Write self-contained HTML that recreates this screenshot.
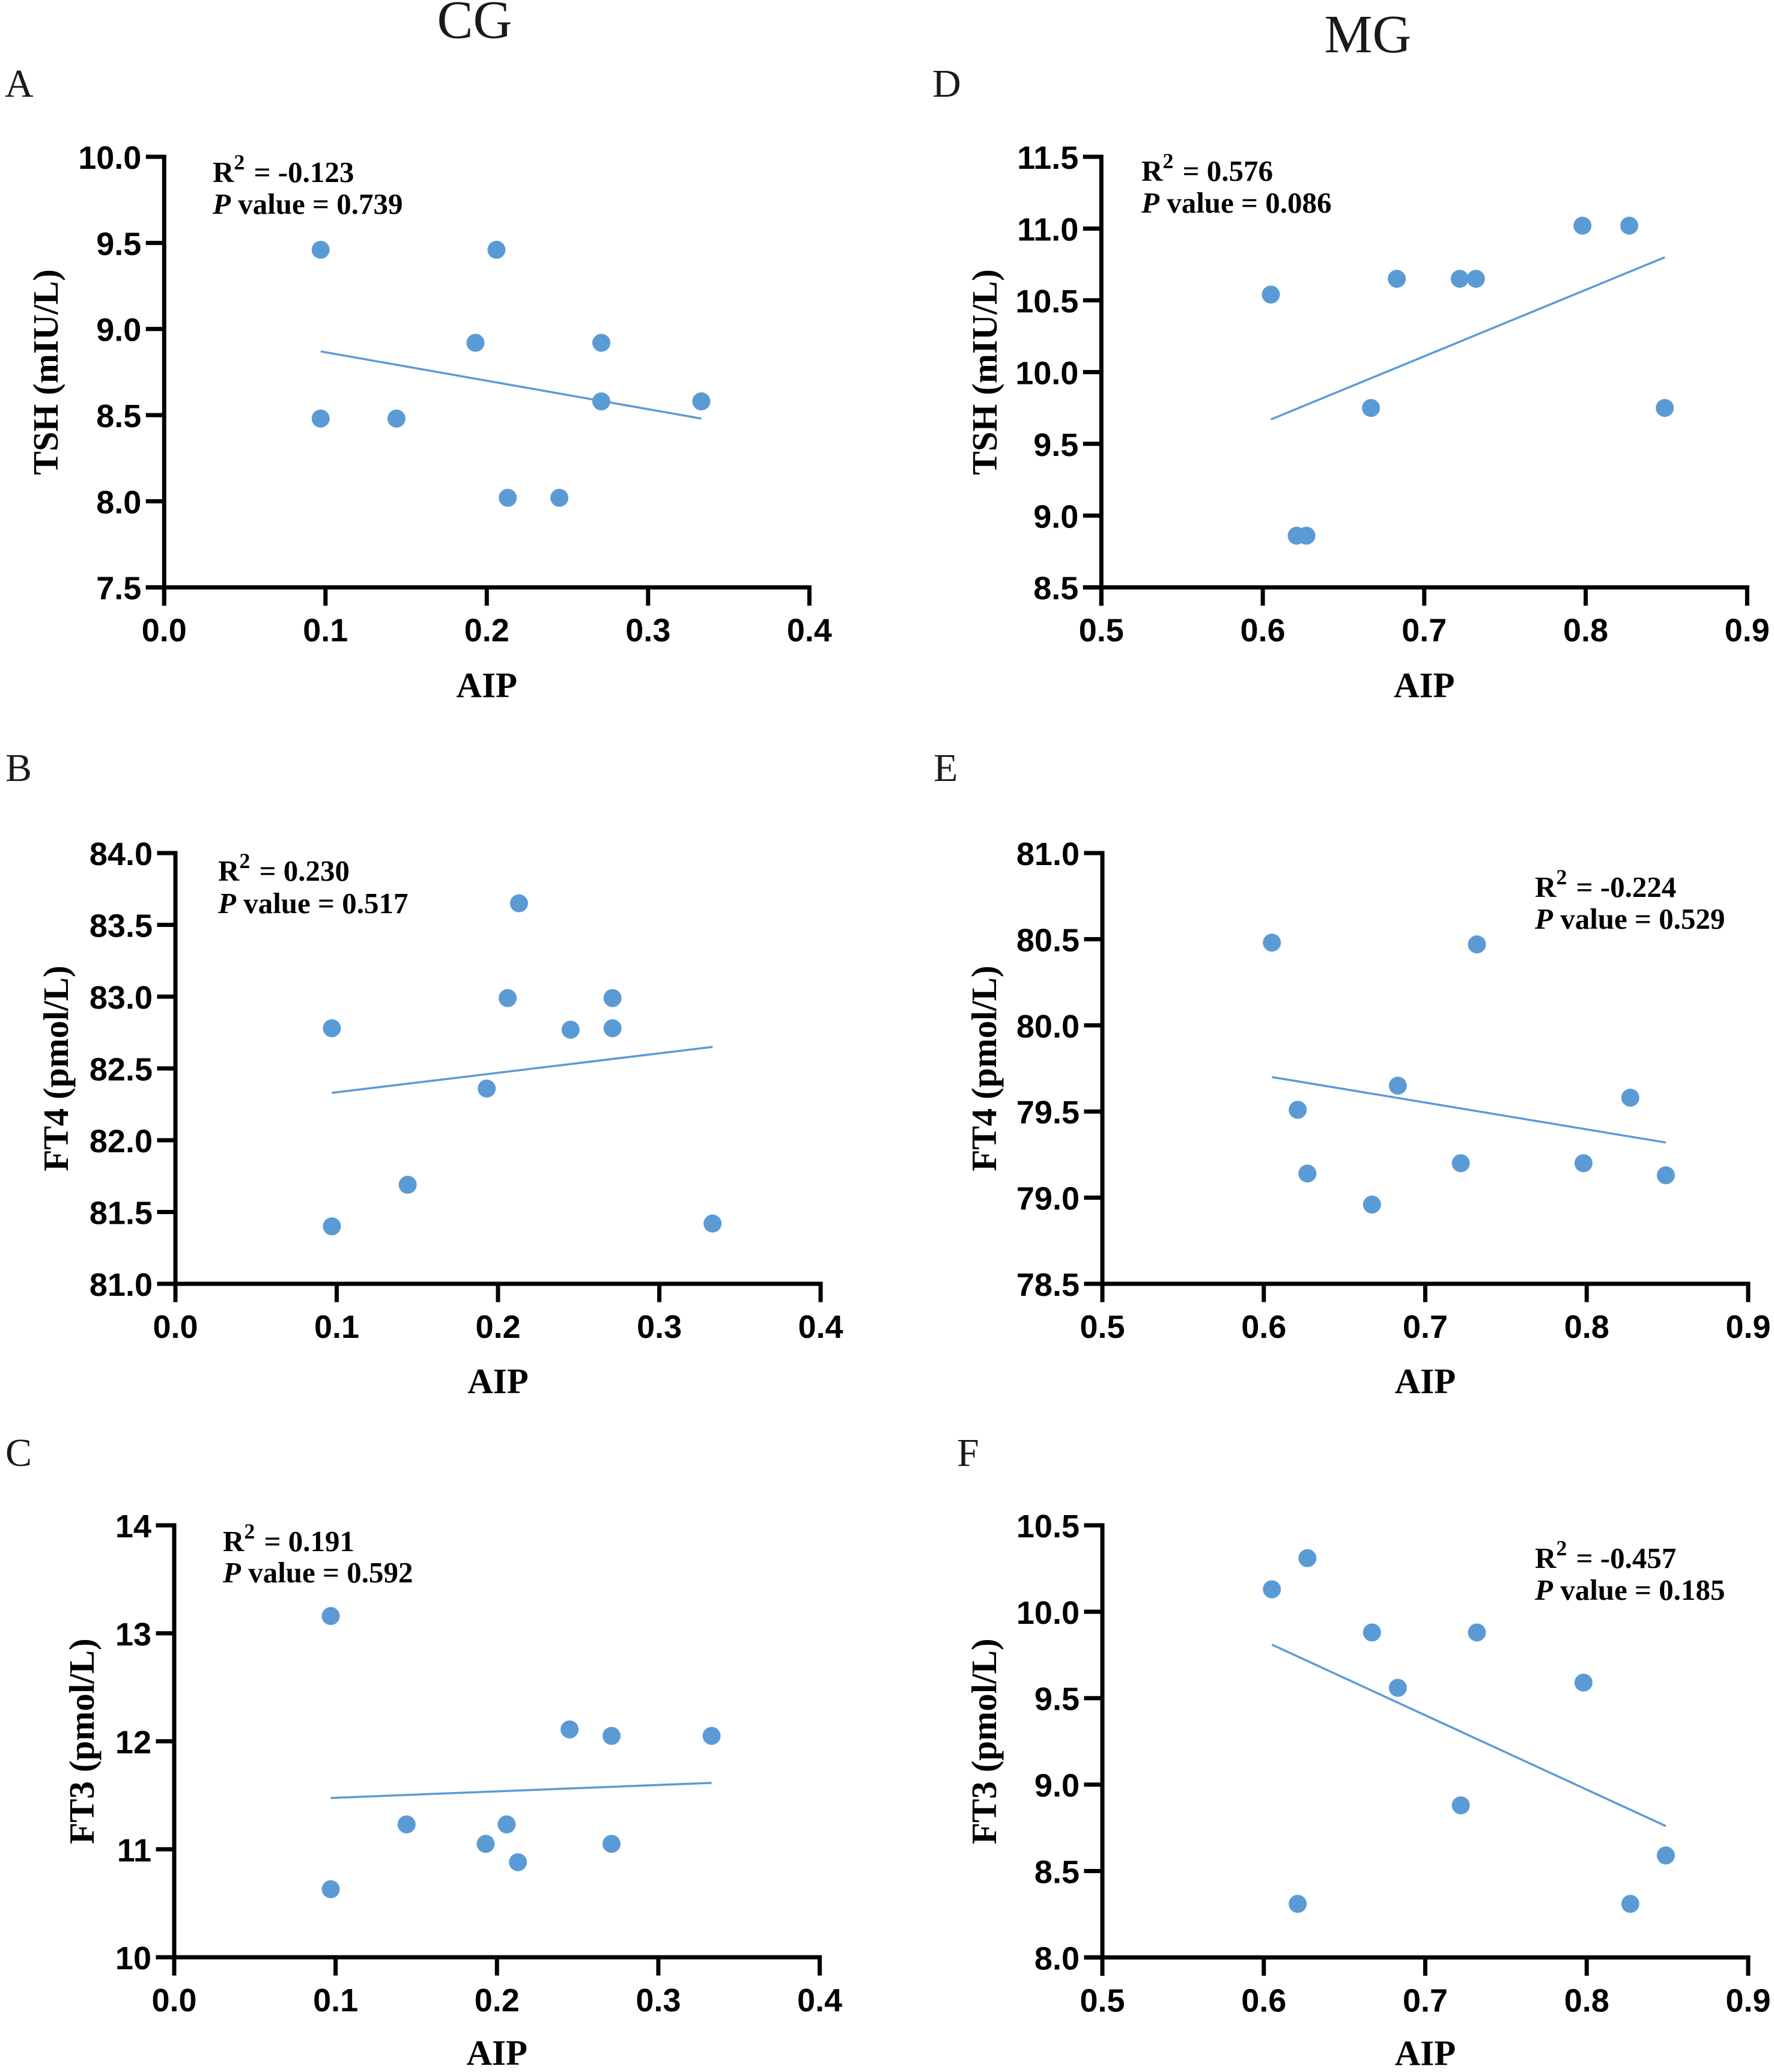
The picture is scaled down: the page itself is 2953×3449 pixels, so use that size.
<!DOCTYPE html>
<html lang="en">
<head>
<meta charset="utf-8">
<title>AIP correlation scatter plots</title>
<style>
html,body{margin:0;padding:0;background:#fff;}
svg{display:block;}
.sans{font-family:"Liberation Sans",Arial,sans-serif;font-weight:700;fill:#000;}
.serifb{font-family:"Liberation Serif","Times New Roman",serif;font-weight:700;fill:#000;}
.serif{font-family:"Liberation Serif","Times New Roman",serif;font-weight:400;fill:#1a1a1a;}
</style>
</head>
<body>
<svg id="figure" xmlns="http://www.w3.org/2000/svg" width="2953" height="3449" viewBox="0 0 2953 3449">
  <rect width="2953" height="3449" fill="#fff"/>
  <text class="serif" x="790" y="63" font-size="90" text-anchor="middle">CG</text>
  <text class="serif" x="2277" y="87" font-size="90" text-anchor="middle">MG</text>
  <text class="serif" x="8" y="161" font-size="66">A</text>
  <text class="serif" x="1552" y="161" font-size="66">D</text>
  <text class="serif" x="9" y="1300" font-size="66">B</text>
  <text class="serif" x="1554" y="1300" font-size="66">E</text>
  <text class="serif" x="9" y="2440" font-size="66">C</text>
  <text class="serif" x="1593" y="2440" font-size="66">F</text>
</svg>
<script>
// ---- data ----
const aipCG = [0.097, 0.097, 0.144, 0.193, 0.206, 0.213, 0.245, 0.271, 0.271, 0.333];
const tshCG = [9.46, 8.48, 8.48, 8.92, 9.46, 8.02, 8.02, 8.92, 8.58, 8.58];
const ft4CG = [82.78, 81.40, 81.69, 82.36, 82.99, 83.65, 82.77, 82.99, 82.78, 81.42];
const ft3CG = [13.16, 10.63, 11.23, 11.05, 11.23, 10.88, 12.11, 12.05, 11.05, 12.05];

const aipMG = [0.605, 0.621, 0.627, 0.667, 0.683, 0.722, 0.732, 0.798, 0.827, 0.849];
const tshMG = [10.54, 8.86, 8.86, 9.75, 10.65, 10.65, 10.65, 11.02, 11.02, 9.75];
const ft4MG = [80.48, 79.51, 79.14, 78.96, 79.65, 79.20, 80.47, 79.20, 79.58, 79.13];
const ft3MG = [10.13, 8.31, 10.31, 9.88, 9.56, 8.88, 9.88, 9.59, 8.31, 8.59];

// trend-line end values (at the smallest and largest AIP of each group)
const fitTshCG = [8.87, 8.48];
const fitFt4CG = [82.33, 82.65];
const fitFt3CG = [11.475, 11.615];
const fitTshMG = [9.67, 10.80];
const fitFt4MG = [79.70, 79.32];
const fitFt3MG = [9.81, 8.76];

// tick labels
const xTicksCG = ["0.0", "0.1", "0.2", "0.3", "0.4"];
const xTicksMG = ["0.5", "0.6", "0.7", "0.8", "0.9"];
const yTicksTshCG = ["7.5", "8.0", "8.5", "9.0", "9.5", "10.0"];
const yTicksTshMG = ["8.5", "9.0", "9.5", "10.0", "10.5", "11.0", "11.5"];
const yTicksFt4CG = ["81.0", "81.5", "82.0", "82.5", "83.0", "83.5", "84.0"];
const yTicksFt4MG = ["78.5", "79.0", "79.5", "80.0", "80.5", "81.0"];
const yTicksFt3CG = ["10", "11", "12", "13", "14"];
const yTicksFt3MG = ["8.0", "8.5", "9.0", "9.5", "10.0", "10.5"];

const NS = "http://www.w3.org/2000/svg";
const svg = document.getElementById("figure");
const BLUE = "#5b9bd5";

function make(tag, attrs, parent) {
  const el = document.createElementNS(NS, tag);
  for (const k in attrs) el.setAttribute(k, attrs[k]);
  parent.appendChild(el);
  return el;
}

function drawPanel(p) {
  const g = make("g", {}, svg);
  
  

  const xMin = parseFloat(p.xTicks[0]), xMax = parseFloat(p.xTicks[p.xTicks.length - 1]);
  const yMin = parseFloat(p.yTicks[0]), yMax = parseFloat(p.yTicks[p.yTicks.length - 1]);
  const sx = v => p.left + (v - xMin) / (xMax - xMin) * (p.right - p.left);
  const sy = v => p.bottom - (v - yMin) / (yMax - yMin) * (p.bottom - p.top);
  const tickLen = 30.5, sw = 7;

  // axes
  const yAxis = make("line", {x1: p.left, x2: p.left, y1: p.top - sw / 2, y2: p.bottom + tickLen, stroke: "#000", "stroke-width": sw}, g);
  
  
  const xAxis = make("line", {x1: p.left - tickLen, x2: p.right + sw / 2, y1: p.bottom, y2: p.bottom, stroke: "#000", "stroke-width": sw}, g);
  
  

  // x ticks
  p.xTicks.forEach(function (t) {
    const v = parseFloat(t), x = sx(v);
    const tick = make("line", {x1: x, x2: x, y1: p.bottom, y2: p.bottom + tickLen, stroke: "#000", "stroke-width": sw}, g);
    
    
    const lab = make("text", {x: x, y: p.bottom + 90, "text-anchor": "middle", "font-size": 54, class: "sans"}, g);
    lab.textContent = t;
    
    
  });

  // y ticks
  p.yTicks.forEach(function (t) {
    const v = parseFloat(t), y = sy(v);
    const tick = make("line", {x1: p.left - tickLen, x2: p.left, y1: y, y2: y, stroke: "#000", "stroke-width": sw}, g);
    
    
    const lab = make("text", {x: p.left - 38, y: y + 20, "text-anchor": "end", "font-size": 54, class: "sans"}, g);
    lab.textContent = t;
    
    
  });

  // axis titles
  const xTitle = make("text", {x: (p.left + p.right) / 2, y: p.bottom + p.xTitleDy, "text-anchor": "middle", "font-size": 59, class: "serifb"}, g);
  xTitle.textContent = "AIP";
  
  
  const cy = (p.top + p.bottom) / 2;
  const yTitle = make("text", {x: 0, y: 0, "text-anchor": "middle", "font-size": 59, class: "serifb", transform: "translate(" + p.titleX + "," + cy + ") rotate(-90)"}, g);
  yTitle.textContent = p.yTitle;
  
  

  // trend line
  const x0 = Math.min.apply(null, p.xs), x1 = Math.max.apply(null, p.xs);
  const fit = make("line", {x1: sx(x0), y1: sy(p.fit[0]), x2: sx(x1), y2: sy(p.fit[1]), stroke: BLUE, "stroke-width": 3.5}, g);
  
  

  // points
  p.xs.forEach(function (xv, i) {
    const pt = make("circle", {cx: sx(xv), cy: sy(p.ys[i]), r: 15, fill: BLUE}, g);
    
    
  });

  // annotation
  const r = make("text", {x: p.noteX, y: p.noteY[0], "font-size": 49, class: "serifb"}, g);
  
  
  const r1 = make("tspan", {}, r); r1.textContent = "R";
  const r2 = make("tspan", {dy: -21, "font-size": 36}, r); r2.textContent = "2";
  const r3 = make("tspan", {dy: 21, dx: 3}, r); r3.textContent = " = " + p.r2;
  const pv = make("text", {x: p.noteX, y: p.noteY[1], "font-size": 49, class: "serifb"}, g);
  
  
  const p1 = make("tspan", {"font-style": "italic"}, pv); p1.textContent = "P";
  const p2 = make("tspan", {}, pv); p2.textContent = " value = " + p.pv;
}

drawPanel({id: "a", xs: aipCG, ys: tshCG, fit: fitTshCG, xTicks: xTicksCG, yTicks: yTicksTshCG, yTitle: "TSH (mIU/L)", r2: "-0.123", pv: "0.739",
  left: 273.3, right: 1347.3, top: 261, bottom: 977.7, titleX: 96, xTitleDy: 183, noteX: 354, noteY: [303, 356]});
drawPanel({id: "b", xs: aipCG, ys: ft4CG, fit: fitFt4CG, xTicks: xTicksCG, yTicks: yTicksFt4CG, yTitle: "FT4 (pmol/L)", r2: "0.230", pv: "0.517",
  left: 292, right: 1366, top: 1420, bottom: 2137, titleX: 113, xTitleDy: 182, noteX: 363, noteY: [1466, 1520]});
drawPanel({id: "c", xs: aipCG, ys: ft3CG, fit: fitFt3CG, xTicks: xTicksCG, yTicks: yTicksFt3CG, yTitle: "FT3 (pmol/L)", r2: "0.191", pv: "0.592",
  left: 290, right: 1364.5, top: 2539, bottom: 3258, titleX: 156, xTitleDy: 179, noteX: 371, noteY: [2582, 2634]});
drawPanel({id: "d", xs: aipMG, ys: tshMG, fit: fitTshMG, xTicks: xTicksMG, yTicks: yTicksTshMG, yTitle: "TSH (mIU/L)", r2: "0.576", pv: "0.086",
  left: 1833.3, right: 2908.3, top: 261, bottom: 977.7, titleX: 1659, xTitleDy: 183, noteX: 1900, noteY: [301, 354]});
drawPanel({id: "e", xs: aipMG, ys: ft4MG, fit: fitFt4MG, xTicks: xTicksMG, yTicks: yTicksFt4MG, yTitle: "FT4 (pmol/L)", r2: "-0.224", pv: "0.529",
  left: 1835, right: 2910, top: 1420, bottom: 2137, titleX: 1658, xTitleDy: 182, noteX: 2555, noteY: [1493, 1546]});
drawPanel({id: "f", xs: aipMG, ys: ft3MG, fit: fitFt3MG, xTicks: xTicksMG, yTicks: yTicksFt3MG, yTitle: "FT3 (pmol/L)", r2: "-0.457", pv: "0.185",
  left: 1835, right: 2910, top: 2539, bottom: 3258.3, titleX: 1658, xTitleDy: 179, noteX: 2555, noteY: [2610, 2663]});
</script>
</body>
</html>
